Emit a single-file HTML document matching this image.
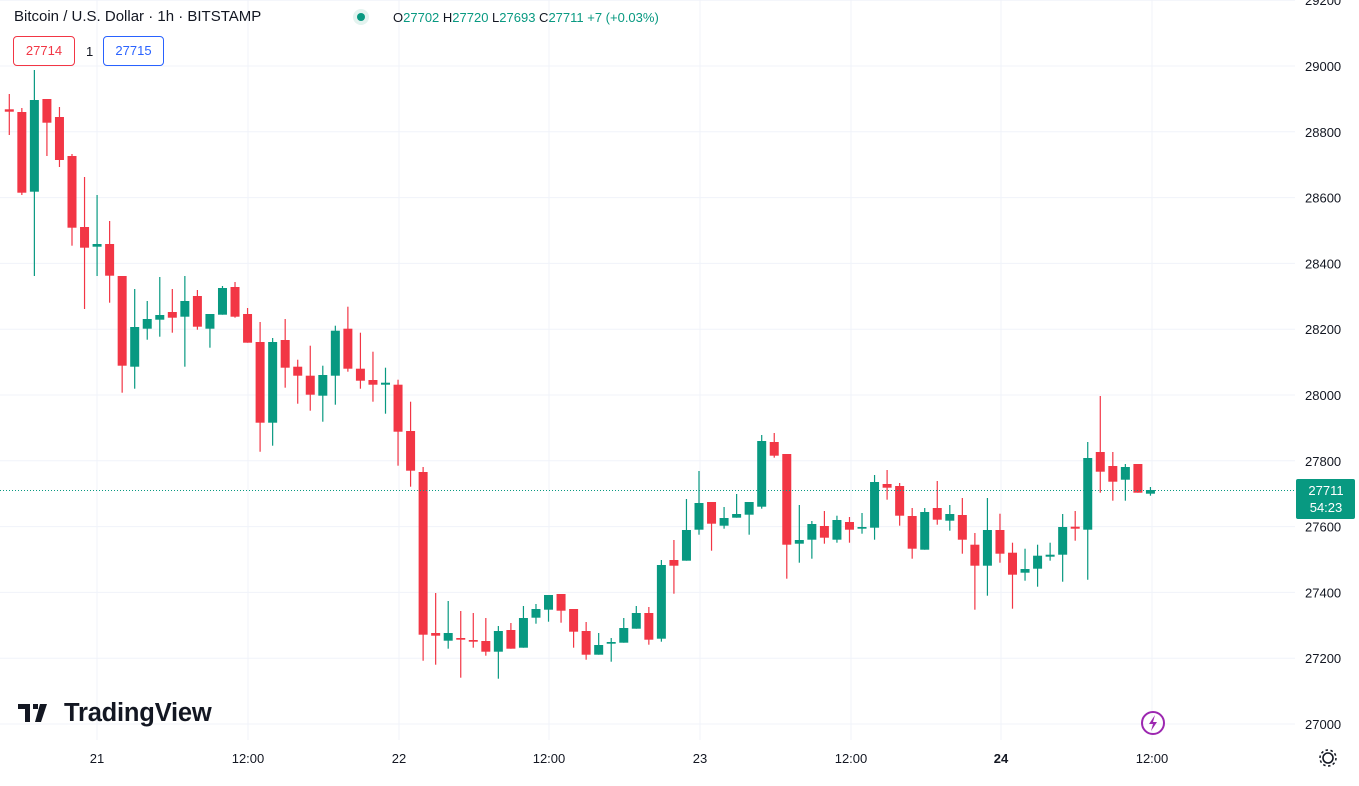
<!DOCTYPE html>
<html><head><meta charset="utf-8"><style>
body{margin:0;background:#fff;font-family:"Liberation Sans",sans-serif;}
#w{position:relative;width:1359px;height:786px;overflow:hidden;background:#fff}
svg{position:absolute;left:0;top:0}
.t{position:absolute;white-space:nowrap;color:#131722}
</style></head><body><div id="w">
<svg id="s" width="1359" height="786" xmlns="http://www.w3.org/2000/svg">
<g id="grid" stroke="#f0f3fa" stroke-width="1"></g>
<g id="c"></g>
<line x1="0" y1="490.5" x2="1295" y2="490.5" stroke="#089981" stroke-width="1" stroke-dasharray="1,2"/>
<g font-family="Liberation Sans, sans-serif" font-size="13" fill="#131722" id="pl"></g>
<rect x="1296" y="479" width="59" height="40" rx="2" fill="#089981"/>
<text x="1326" y="495" font-family="Liberation Sans, sans-serif" font-size="13" fill="#fff" text-anchor="middle">27711</text>
<text x="1326" y="512" font-family="Liberation Sans, sans-serif" font-size="13" fill="#fff" text-anchor="middle">54:23</text>
<g font-family="Liberation Sans, sans-serif" font-size="13" fill="#131722" text-anchor="middle">
<text x="97" y="763">21</text><text x="248" y="763">12:00</text><text x="399" y="763">22</text>
<text x="549" y="763">12:00</text><text x="700" y="763">23</text><text x="851" y="763">12:00</text>
<text x="1001" y="763" font-weight="bold">24</text><text x="1152" y="763">12:00</text>
</g>
<circle cx="1153" cy="723" r="11" fill="none" stroke="#9c27b0" stroke-width="2"/>
<path d="M1155 715 L1149 724 L1153 724 L1151 731 L1157 722 L1153 722 Z" fill="#9c27b0"/>
<circle cx="1328" cy="758" r="5" fill="none" stroke="#131722" stroke-width="1.6"/>
<circle cx="1328" cy="758" r="8" fill="none" stroke="#131722" stroke-width="1.5" stroke-dasharray="2.5,2.5"/>
<circle cx="361" cy="17" r="8" fill="#e3f3ef"/><circle cx="361" cy="17" r="4" fill="#089981"/>
<path d="M18 704h12v18h-5v-13h-7z M33 704h5v5h-5z M40 704h7l-6 18h-6z" fill="#131722"/>
</svg>
<div class="t" style="left:14px;top:8px;font-size:15px">Bitcoin / U.S. Dollar · 1h · BITSTAMP</div>
<div class="t" style="left:393px;top:10px;font-size:13px;color:#089981"><span style="color:#131722">O</span>27702 <span style="color:#131722">H</span>27720 <span style="color:#131722">L</span>27693 <span style="color:#131722">C</span>27711 +7 (+0.03%)</div>
<div class="t" style="left:13px;top:36px;width:60px;height:28px;border:1px solid #f23645;border-radius:4px;color:#f23645;font-size:13px;line-height:28px;text-align:center">27714</div>
<div class="t" style="left:86px;top:44px;font-size:13px">1</div>
<div class="t" style="left:103px;top:36px;width:59px;height:28px;border:1px solid #2962ff;border-radius:4px;color:#2962ff;font-size:13px;line-height:28px;text-align:center">27715</div>
<div class="t" style="left:64px;top:699px;font-size:25.5px;font-weight:bold;letter-spacing:-0.2px">TradingView</div>
</div>
<script>
var d=[[109.3,111.7,94,135,0],[112,192.7,108,195,0],[100,191.7,70,276,1],[99,122.7,99,156,0],[117,160,107,167,0],[156,227.7,154,245.7,0],[227,247.7,177,309,0],[244,246.7,195,276,1],[244,275.7,221,302.7,0],[276,365.7,276,392.7,0],[327,366.7,289,388.7,1],[319,328.7,301,339.7,1],[315,319.7,277,336.7,1],[312,317.7,289,332.7,0],[301,316.7,276,366.7,1],[296,326.7,290,329.7,0],[314,328.7,314,347.7,1],[288,314.7,286,314.7,1],[287,316.7,282,317.7,0],[314,342.7,308,342.7,0],[342,422.7,322,451.7,0],[342,422.7,338,445.7,1],[340,367.7,319,387.7,0],[366.7,375.7,359.7,403.7,0],[375.7,394.7,345.7,410.7,0],[375,395.7,365.7,421.7,1],[330.7,375.7,325.7,404.7,1],[328.7,368.7,306.7,371.7,0],[368.7,380.7,332.7,388.7,0],[380,384.7,351.7,401.7,0],[382.7,384.7,367.7,413.7,1],[384.7,431.7,379.7,465.7,0],[431,470.7,401.7,486.7,0],[472,634.7,467,660.7,0],[633,635.7,593,664.7,0],[633,640.7,601,648.7,1],[638,639.7,611,677.7,0],[640,641.7,613,647.7,0],[641,651.7,618,655.7,0],[631,651.7,626,678.7,1],[630,648.7,623,648.7,0],[618,647.7,606,647.7,1],[609,617.7,604,623.7,1],[595,609.7,595,621.7,1],[594,610.7,594,622.7,0],[609,631.7,609,647.7,0],[631,654.7,622,659.7,0],[645,654.7,633,654.7,1],[642,643.7,638,661.7,1],[628,642.7,618,642.7,1],[613,628.7,606,628.7,1],[613,639.7,607,644.7,0],[565,638.7,560,641.7,1],[560,565.7,540,593.7,0],[530,560.7,499,560.7,1],[503,529.7,471,534.7,1],[502,523.7,502,550.7,0],[518,525.7,507,528.7,1],[514,517.7,494,517.7,1],[502,514.7,502,534.7,1],[441,506.7,435,508.7,1],[442,455.7,433,457.7,0],[454,544.7,454,578.7,0],[540,543.7,505,562.7,1],[524,539.7,521,558.7,1],[526,537.7,511,543.7,0],[520,539.7,515.7,542.7,1],[522,529.7,517,542.7,0],[527,528.7,513,533.7,1],[482,527.7,475,539.7,1],[484,487.7,470,499.7,0],[486,515.7,483,525.7,0],[516,548.7,508,558.7,0],[512,549.7,508,549.7,1],[508,519.7,481,524.7,0],[514,520.7,505,530.7,1],[515,539.7,498,553.7,0],[544.7,565.7,533,609.7,0],[530,565.7,498,595.7,1],[530,553.7,513.7,562.7,0],[552.7,574.7,542.7,608.7,0],[569,572.7,548.7,580.7,1],[555.7,568.7,544.7,586.7,1],[554.7,556.7,542.7,560.7,1],[527,554.7,514,581.7,1],[526.7,528.7,511,540.7,0],[458,529.7,442,579.7,1],[452,471.7,396,492.7,0],[466,481.7,452,500.7,0],[467,479.7,464,500.7,1],[464,492.7,464,492.7,0],[490,493.7,487,495.7,1]];
var c=document.getElementById("c"),h="";
d.forEach(function(a,i){var x=9.3+12.54*i,col=a[4]?"#089981":"#f23645";
h+='<line x1="'+x+'" x2="'+x+'" y1="'+a[2]+'" y2="'+a[3]+'" stroke="'+col+'" stroke-width="1.2"/>';
h+='<rect x="'+(x-4.5)+'" y="'+a[0]+'" width="9" height="'+Math.max(1.5,a[1]-a[0])+'" fill="'+col+'"/>';});
c.innerHTML=h;
var g="",p="";
for(var v=27000;v<=29200;v+=200){var y=724-(v-27000)*0.329;g+='<line x1="0" x2="1295" y1="'+y+'" y2="'+y+'"/>';p+='<text x="1305" y="'+(y+5)+'">'+v+'</text>';}
[97,248,399,549,700,851,1001,1152].forEach(function(x){g+='<line x1="'+x+'" x2="'+x+'" y1="0" y2="740"/>';});
document.getElementById("grid").innerHTML=g;document.getElementById("pl").innerHTML=p;
</script>
</body></html>
